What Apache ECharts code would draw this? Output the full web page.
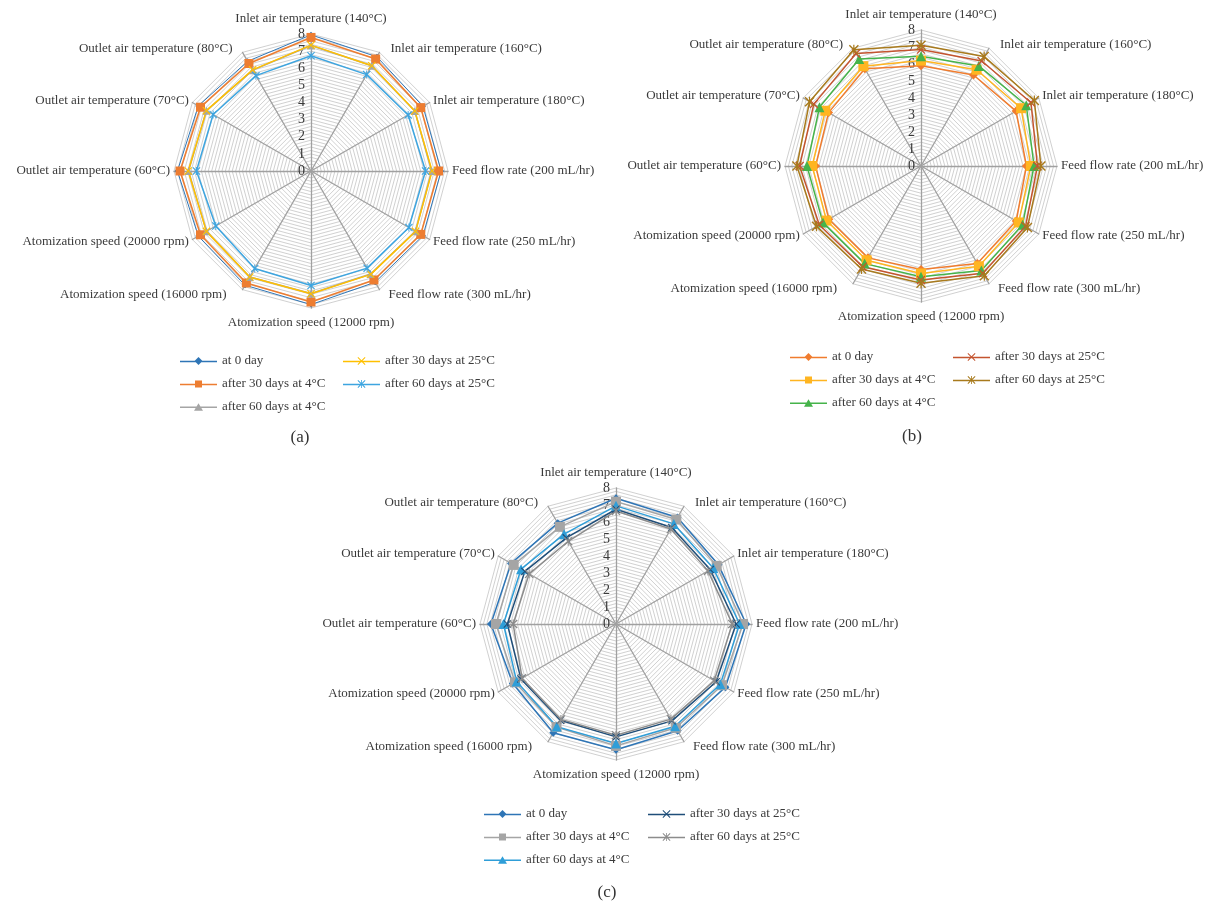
<!DOCTYPE html>
<html>
<head>
<meta charset="utf-8">
<script src="https://cdn.jsdelivr.net/npm/echarts@6/dist/echarts.min.js"></script>
<style>
  html, body { margin: 0; padding: 0; background: #fff; }
  .chart { position: absolute; left: 0; top: 0; width: 1210px; height: 906px; }
</style>
</head>
<body>
<div id="chartA" class="chart"></div>
<div id="chartB" class="chart"></div>
<div id="chartC" class="chart"></div>
<script>
// axes, clockwise from the top
const categories = [
  'Inlet air temperature (140°C)',
  'Inlet air temperature (160°C)',
  'Inlet air temperature (180°C)',
  'Feed flow rate (200 mL/hr)',
  'Feed flow rate (250 mL/hr)',
  'Feed flow rate (300 mL/hr)',
  'Atomization speed (12000 rpm)',
  'Atomization speed (16000 rpm)',
  'Atomization speed (20000 rpm)',
  'Outlet air temperature (60°C)',
  'Outlet air temperature (70°C)',
  'Outlet air temperature (80°C)'
]
const seriesNames = [
  'at 0 day',
  'after 30 days at 4°C',
  'after 60 days at 4°C',
  'after 30 days at 25°C',
  'after 60 days at 25°C'
]

// (a)
const aDay0   = [7.95, 7.7, 7.55, 7.6, 7.55, 7.5, 7.8, 7.7, 7.6, 7.8, 7.6, 7.4]
const a30d4C  = [7.8, 7.55, 7.4, 7.45, 7.4, 7.35, 7.65, 7.55, 7.45, 7.65, 7.45, 7.25]
const a60d4C  = [7.33, 7.1, 7.0, 7.05, 7.05, 6.95, 7.15, 7.15, 7.05, 7.15, 7.05, 6.8]
const a30d25C = [7.35, 7.1, 7.0, 7.07, 7.05, 6.97, 7.17, 7.15, 7.05, 7.17, 7.05, 6.82]
const a60d25C = [6.73, 6.5, 6.55, 6.69, 6.6, 6.55, 6.69, 6.57, 6.42, 6.69, 6.6, 6.43]

// (b)
const bDay0   = [5.9, 6.18, 6.46, 6.2, 6.47, 6.63, 6.09, 6.24, 6.26, 6.2, 6.28, 6.61]
const b30d4C  = [6.2, 6.54, 6.8, 6.46, 6.64, 6.81, 6.32, 6.4, 6.42, 6.4, 6.5, 6.78]
const b60d4C  = [6.45, 6.8, 7.15, 6.65, 6.9, 7.1, 6.52, 6.63, 6.66, 6.71, 6.9, 7.27]
const b30d25C = [6.85, 7.13, 7.47, 6.85, 7.1, 7.28, 6.71, 6.85, 6.91, 7.14, 7.28, 7.64]
const b60d25C = [7.1, 7.43, 7.7, 7.05, 7.23, 7.45, 6.9, 7.0, 7.1, 7.3, 7.57, 7.9]

// (c)
const cDay0   = [7.4, 7.23, 6.96, 7.66, 7.43, 7.25, 7.4, 7.38, 7.01, 7.36, 7.13, 6.85]
const c30d4C  = [7.2, 7.1, 6.84, 7.47, 7.2, 7.05, 7.17, 7.0, 6.86, 7.06, 6.95, 6.6]
const c60d4C  = [6.95, 6.8, 6.6, 7.27, 7.09, 6.95, 7.03, 6.97, 6.75, 6.62, 6.45, 6.1]
const c30d25C = [6.75, 6.56, 6.4, 7.07, 6.8, 6.58, 6.64, 6.54, 6.46, 6.39, 6.19, 5.85]
const c60d25C = [6.65, 6.45, 6.25, 6.84, 6.67, 6.46, 6.54, 6.48, 6.38, 6.05, 5.9, 5.62]

const FONT = 'Liberation Serif'

// radar runs counter-clockwise, so feed the axes in reverse after the top one
const order = [0, 11, 10, 9, 8, 7, 6, 5, 4, 3, 2, 1]
const reorder = arr => order.map(i => arr[i])

// marker shapes
const X_PATH = 'M0,1L1,0L5,4L9,0L10,1L6,5L10,9L9,10L5,6L1,10L0,9L4,5Z'
const STAR_PATH = X_PATH + 'M4.4,0H5.6V10H4.4Z'
const markers = {
  diamond: 'diamond',
  square: 'rect',
  triangle: 'triangle',
  x: 'path://' + X_PATH,
  star: 'path://' + STAR_PATH
}

// legend icons: line with the marker in the middle (37 x 9 box)
const LINE = 'M0,4.2H37V5.8H0Z'
const X_ICON = 'M14.5,1.2L15.2,0.5L18.5,3.8L21.8,0.5L22.5,1.2L19.2,4.5L22.5,7.8L21.8,8.5L18.5,5.2L15.2,8.5L14.5,7.8L17.8,4.5Z'
const legendIcons = {
  diamond: 'path://' + LINE + 'M18.5,0.5L22.5,4.5L18.5,8.5L14.5,4.5Z',
  square: 'path://' + LINE + 'M15,1H22V8H15Z',
  triangle: 'path://' + LINE + 'M18.5,1L23,8.5H14Z',
  x: 'path://' + LINE + X_ICON,
  star: 'path://' + LINE + X_ICON + 'M18.1,0.5H18.9V8.5H18.1Z'
}

const shapes = ['diamond', 'square', 'triangle', 'x', 'star']

const intLabel = v => Math.abs(v - Math.round(v)) < 1e-6 ? String(Math.round(v)) : ''

// extra spacing for some axis names (excel puts them a bit further out)
const nameStyle = { 0: 't', 1: 'r', 5: 'r2', 6: 'b', 7: 'l2', 11: 'l' }
const nameText = { fontFamily: FONT, fontSize: 13, color: '#3a3a3a' }
const nameRich = {
  t: { ...nameText, padding: [0, 0, 5, 0] },
  b: { ...nameText, padding: [4, 0, 0, 0] },
  r: { ...nameText, padding: [0, 0, 0, 9] },
  r2: { ...nameText, padding: [3, 0, 0, 7] },
  l: { ...nameText, padding: [0, 8, 0, 0] },
  l2: { ...nameText, padding: [3, 14, 0, 0] }
}
const nameFormatter = name => {
  const key = nameStyle[categories.indexOf(name)]
  return key ? '{' + key + '|' + name + '}' : name
}

const buildOption = cfg => ({
  animation: false,
  radar: {
    center: cfg.center,
    radius: cfg.radius,
    startAngle: 90,
    shape: 'polygon',
    splitNumber: 40,
    nameGap: 4,
    axisName: { ...nameText, formatter: nameFormatter, rich: nameRich },
    axisLine: { lineStyle: { color: '#a0a0a0', width: 1.3 } },
    splitLine: { lineStyle: { color: '#c4c4c4', width: 0.8 } },
    splitArea: { show: false },
    axisTick: { show: false },
    axisLabel: {
      show: false,
      color: '#3a3a3a',
      fontFamily: FONT,
      fontSize: 14,
      margin: 6,
      formatter: intLabel
    },
    indicator: order.map((i, j) => {
      const ind = { name: categories[i], min: 0, max: 8 }
      if (j === 0) ind.axisLabel = { show: true }
      return ind
    })
  },
  legend: [0, 1].map(col => ({
    data: seriesNames
      .map((n, k) => ({ name: n, icon: legendIcons[shapes[k]] }))
      .slice(col === 0 ? 0 : 3, col === 0 ? 3 : 5),
    orient: 'vertical',
    left: cfg.legendLeft[col],
    top: cfg.legendTop,
    itemWidth: 37,
    itemHeight: 9,
    itemGap: 9,
    textStyle: {
      color: '#3a3a3a',
      fontFamily: FONT,
      fontSize: 13,
      lineHeight: 14
    }
  })),
  graphic: [{
    type: 'text',
    x: cfg.caption[0],
    y: cfg.caption[1],
    style: {
      text: cfg.caption[2],
      align: 'center',
      verticalAlign: 'middle',
      fontFamily: FONT,
      fontSize: 17,
      fill: '#333'
    }
  }],
  series: cfg.values.map((arr, k) => ({
    type: 'radar',
    name: seriesNames[k],
    symbol: markers[shapes[k]],
    symbolSize: cfg.sizes[k],
    itemStyle: { color: cfg.colors[k] },
    lineStyle: { color: cfg.colors[k], width: cfg.widths[k] },
    data: [{ name: seriesNames[k], value: reorder(arr) }]
  }))
})

const charts = [
  {
    el: 'chartA',
    center: [311, 171],
    radius: 137,
    values: [aDay0, a30d4C, a60d4C, a30d25C, a60d25C],
    colors: ['#2E75B6', '#ED7D31', '#A5A5A5', '#FFC000', '#3DA5E0'],
    sizes: [6, 9, 8, 8, 8],
    widths: [1, 1.6, 1.5, 1.5, 1.5],
    legendLeft: [175, 338],
    legendTop: 349,
    caption: [300, 438, '(a)']
  },
  {
    el: 'chartB',
    center: [921, 166],
    radius: 136,
    values: [bDay0, b30d4C, b60d4C, b30d25C, b60d25C],
    colors: ['#F07C2E', '#FFB521', '#45B34A', '#C4542F', '#A87A1C'],
    sizes: [9, 10, 10, 9, 10],
    widths: [1.5, 1.5, 1.5, 1.5, 1.5],
    legendLeft: [785, 948],
    legendTop: 345,
    caption: [912, 437, '(b)']
  },
  {
    el: 'chartC',
    center: [616, 624],
    radius: 136,
    values: [cDay0, c30d4C, c60d4C, c30d25C, c60d25C],
    colors: ['#2E75B6', '#A5A5A5', '#2F9ED8', '#1F4E79', '#8C8C8C'],
    sizes: [8, 10, 10, 8, 9],
    widths: [1.5, 1.5, 1.5, 1.5, 1.5],
    legendLeft: [479, 643],
    legendTop: 802,
    caption: [607, 893, '(c)']
  }
]

charts.forEach(cfg => {
  const chart = echarts.init(document.getElementById(cfg.el))
  chart.setOption(buildOption(cfg))
})
</script>
</body>
</html>
